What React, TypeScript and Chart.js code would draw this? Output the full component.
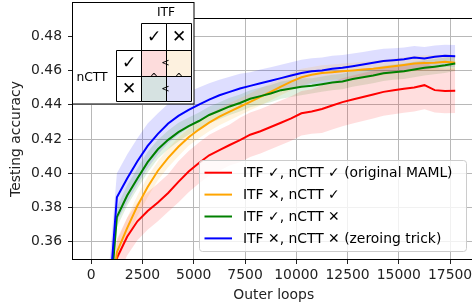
import React, { useEffect, useRef } from 'react';
import { Chart, registerables } from 'chart.js';

Chart.register(...registerables);

// ---------------- data ----------------
const outerLoops = [0, 1250, 1750, 2250, 2750, 3250, 3750, 4250, 4750, 5250, 5750, 6250, 6750, 7250, 7750, 8250, 8750, 9250, 9750, 10250, 10750, 11250, 11750, 12250, 12750, 13250, 13750, 14250, 14750, 15250, 15750, 16250, 16750, 17250, 17750];

const accOriginal = [0.20, 0.3505, 0.363, 0.372, 0.378, 0.383, 0.3885, 0.395, 0.401, 0.406, 0.4105, 0.4135, 0.4165, 0.4194, 0.4225, 0.4245, 0.427, 0.4295, 0.432, 0.435, 0.436, 0.4375, 0.4395, 0.4415, 0.443, 0.4445, 0.446, 0.4475, 0.4485, 0.4493, 0.450, 0.4514, 0.4485, 0.448, 0.4481];
const accItfOff = [0.21, 0.354, 0.368, 0.381, 0.392, 0.4015, 0.409, 0.4155, 0.421, 0.4255, 0.4295, 0.433, 0.436, 0.4388, 0.4417, 0.4446, 0.4475, 0.4505, 0.4535, 0.456, 0.4575, 0.4585, 0.459, 0.4595, 0.460, 0.4605, 0.461, 0.4617, 0.4625, 0.4632, 0.464, 0.4643, 0.4645, 0.465, 0.4645];
const accNcttOff = [0.19, 0.3745, 0.387, 0.397, 0.4065, 0.414, 0.4195, 0.424, 0.4275, 0.4305, 0.434, 0.4365, 0.439, 0.441, 0.4435, 0.445, 0.4465, 0.4485, 0.4495, 0.4505, 0.451, 0.452, 0.453, 0.4535, 0.455, 0.456, 0.457, 0.4583, 0.459, 0.4595, 0.4605, 0.4615, 0.4622, 0.463, 0.4641];
const accZeroing = [0.19, 0.386, 0.397, 0.407, 0.416, 0.423, 0.429, 0.4335, 0.437, 0.440, 0.443, 0.4455, 0.4475, 0.4495, 0.451, 0.4525, 0.454, 0.4555, 0.457, 0.4585, 0.4595, 0.460, 0.461, 0.4615, 0.4625, 0.4635, 0.4645, 0.4655, 0.466, 0.4665, 0.4675, 0.467, 0.468, 0.4685, 0.4683];

const spreadOriginal = [0.03, 0.011, 0.011, 0.011, 0.011, 0.011, 0.011, 0.012, 0.012, 0.012, 0.012, 0.012, 0.012, 0.013, 0.013, 0.013, 0.013, 0.013, 0.013, 0.013, 0.013, 0.014, 0.014, 0.014, 0.014, 0.014, 0.014, 0.014, 0.014, 0.014, 0.014, 0.014, 0.013, 0.013, 0.013];
const spreadItfOff = [0.02, 0.006, 0.006, 0.006, 0.006, 0.0055, 0.0055, 0.0055, 0.005, 0.005, 0.005, 0.005, 0.005, 0.005, 0.005, 0.005, 0.005, 0.005, 0.005, 0.005, 0.0045, 0.0045, 0.0045, 0.0045, 0.0045, 0.0045, 0.0045, 0.0045, 0.0045, 0.0045, 0.0045, 0.0045, 0.0045, 0.0045, 0.0045];
const spreadNcttOff = [0.02, 0.006, 0.006, 0.006, 0.006, 0.0055, 0.0055, 0.0055, 0.005, 0.005, 0.005, 0.005, 0.005, 0.005, 0.005, 0.005, 0.005, 0.005, 0.005, 0.005, 0.0045, 0.0045, 0.0045, 0.0045, 0.0045, 0.0045, 0.0045, 0.0045, 0.0045, 0.0045, 0.0045, 0.0045, 0.0045, 0.0045, 0.0045];
const spreadZeroing = [0.03, 0.014, 0.014, 0.0135, 0.013, 0.012, 0.0115, 0.011, 0.0105, 0.010, 0.0095, 0.009, 0.0088, 0.0085, 0.008, 0.008, 0.0078, 0.0078, 0.0077, 0.0077, 0.0076, 0.0076, 0.0075, 0.0075, 0.0074, 0.0073, 0.0072, 0.0071, 0.007, 0.0069, 0.0068, 0.0067, 0.0066, 0.0065, 0.0065];

const seriesLabels = [
  'ITF ✓, nCTT ✓ (original MAML)',
  'ITF ✕, nCTT ✓',
  'ITF ✓, nCTT ✕',
  'ITF ✕, nCTT ✕ (zeroing trick)',
];
const seriesColors = ['#ff0000', '#ffa500', '#008000', '#0000ff'];
const bandColors = ['rgba(255,0,0,0.13)', 'rgba(255,165,0,0.13)', 'rgba(0,128,0,0.12)', 'rgba(0,0,255,0.13)'];

const xTicks = [0, 2500, 5000, 7500, 10000, 12500, 15000, 17500];
const yTicks = [0.36, 0.38, 0.40, 0.42, 0.44, 0.46, 0.48];
const xLimits = [-890, 18690];
const yLimits = [0.35, 0.49];

const xTitle = 'Outer loops';
const yTitle = 'Testing accuracy';
const insetColTitle = 'ITF';
const insetRowTitle = 'nCTT';

const FONT = "'DejaVu Sans', 'Liberation Sans', sans-serif";
const FS = 13.9;

const seriesValues = [accOriginal, accItfOff, accNcttOff, accZeroing];
const seriesSpreads = [spreadOriginal, spreadItfOff, spreadNcttOff, spreadZeroing];

// ---------------- plugins ----------------
const framePlugin = {
  id: 'frame',
  afterDatasetsDraw(chart: any) {
    const { ctx, chartArea: a } = chart;
    ctx.save();
    ctx.strokeStyle = '#000';
    ctx.lineWidth = 1;
    ctx.strokeRect(Math.round(a.left) - 0.5, Math.round(a.top) - 0.5, Math.round(a.right - a.left) + 1, Math.round(a.bottom - a.top) + 1);
    ctx.restore();
  },
};

const overlayPlugin = {
  id: 'overlay',
  afterDraw(chart: any) {
    const ctx = chart.ctx;
    ctx.save();
    // ----- inset table -----
    ctx.fillStyle = '#ffffff';
    ctx.fillRect(72.5, 2.5, 121.5, 101.5);
    ctx.strokeStyle = '#000';
    ctx.lineWidth = 1;
    ctx.strokeRect(72.5, 2.5, 121.5, 101.5);

    const cx = [116.5, 141.5, 166.5, 191.5];
    const cy = [23.5, 50.5, 76.5, 101.5];
    const cellFill = [
      ['#fddcdc', '#fdf1df'],
      ['#d6e2e1', '#dfdffa'],
    ];
    for (let r = 0; r < 2; r++) {
      for (let c = 0; c < 2; c++) {
        ctx.fillStyle = cellFill[r][c];
        ctx.fillRect(cx[c + 1], cy[r + 1], cx[c + 2] - cx[c + 1], cy[r + 2] - cy[r + 1]);
      }
    }
    ctx.beginPath();
    ctx.rect(cx[1], cy[0], cx[2] - cx[1], cy[1] - cy[0]);
    ctx.rect(cx[2], cy[0], cx[3] - cx[2], cy[1] - cy[0]);
    ctx.rect(cx[0], cy[1], cx[1] - cx[0], cy[2] - cy[1]);
    ctx.rect(cx[0], cy[2], cx[1] - cx[0], cy[3] - cy[2]);
    for (let r = 0; r < 2; r++) for (let c = 0; c < 2; c++) ctx.rect(cx[c + 1], cy[r + 1], cx[c + 2] - cx[c + 1], cy[r + 2] - cy[r + 1]);
    ctx.stroke();

    ctx.fillStyle = '#000';
    ctx.textAlign = 'center';
    ctx.textBaseline = 'middle';
    ctx.font = `12.3px ${FONT}`;
    ctx.fillText(insetColTitle, 166, 12.5);
    ctx.fillText(insetRowTitle, 92, 77.5);
    ctx.font = `17px ${FONT}`;
    ctx.fillText('✓', 154, 37.5);
    ctx.fillText('✕', 179, 37.5);
    ctx.fillText('✓', 129, 64);
    ctx.fillText('✕', 129, 89.5);
    ctx.font = `10px ${FONT}`;
    ctx.fillText('<', 165.5, 63.5);
    ctx.fillText('<', 165.5, 89.5);
    ctx.textBaseline = 'alphabetic';
    ctx.fillText('^', 154, 81);
    ctx.fillText('^', 179, 81);

    // ----- legend -----
    const lx = 199.5, ly = 160.5, lw = 267, lh = 91, rad = 3;
    ctx.beginPath();
    ctx.moveTo(lx + rad, ly);
    ctx.lineTo(lx + lw - rad, ly);
    ctx.arcTo(lx + lw, ly, lx + lw, ly + rad, rad);
    ctx.lineTo(lx + lw, ly + lh - rad);
    ctx.arcTo(lx + lw, ly + lh, lx + lw - rad, ly + lh, rad);
    ctx.lineTo(lx + rad, ly + lh);
    ctx.arcTo(lx, ly + lh, lx, ly + lh - rad, rad);
    ctx.lineTo(lx, ly + rad);
    ctx.arcTo(lx, ly, lx + rad, ly, rad);
    ctx.closePath();
    ctx.fillStyle = 'rgba(255,255,255,0.8)';
    ctx.fill();
    ctx.strokeStyle = '#cccccc';
    ctx.stroke();

    const rowY = [172.7, 194.6, 216.5, 238.4];
    ctx.font = `${FS}px ${FONT}`;
    ctx.textAlign = 'left';
    ctx.textBaseline = 'middle';
    seriesLabels.forEach((lab, i) => {
      ctx.strokeStyle = seriesColors[i];
      ctx.lineWidth = 2;
      ctx.beginPath();
      ctx.moveTo(204.5, rowY[i]);
      ctx.lineTo(232, rowY[i]);
      ctx.stroke();
      ctx.fillStyle = '#000';
      ctx.fillText(lab, 243, rowY[i] + 0.5);
    });
    ctx.restore();
  },
};

export default function App() {
  const canvasRef = useRef<HTMLCanvasElement | null>(null);

  useEffect(() => {
    const canvas = canvasRef.current;
    if (!canvas) return;

    const datasets: any[] = [];
    seriesValues.forEach((vals, i) => {
      const sp = seriesSpreads[i];
      datasets.push({
        label: seriesLabels[i] + ' lower',
        data: outerLoops.map((x, k) => ({ x, y: vals[k] - sp[k] })),
        borderWidth: 0,
        borderColor: 'rgba(0,0,0,0)',
        pointRadius: 0,
        fill: false,
        order: 10,
      });
      datasets.push({
        label: seriesLabels[i] + ' upper',
        data: outerLoops.map((x, k) => ({ x, y: vals[k] + sp[k] })),
        borderWidth: 0,
        borderColor: 'rgba(0,0,0,0)',
        backgroundColor: bandColors[i],
        pointRadius: 0,
        fill: '-1',
        order: 10,
      });
    });
    seriesValues.forEach((vals, i) => {
      datasets.push({
        label: seriesLabels[i],
        data: outerLoops.map((x, k) => ({ x, y: vals[k] })),
        borderColor: seriesColors[i],
        backgroundColor: seriesColors[i],
        borderWidth: 2,
        pointRadius: 0,
        tension: 0,
        fill: false,
        order: 4 - i,
      });
    });

    const chart = new Chart(canvas, {
      type: 'line',
      data: { datasets },
      options: {
        animation: false,
        responsive: false,
        devicePixelRatio: 1,
        layout: { padding: { top: 19, right: 1.5, left: 0, bottom: 0 } },
        plugins: {
          legend: { display: false },
          tooltip: { enabled: false },
        },
        scales: {
          x: {
            type: 'linear',
            min: xLimits[0],
            max: xLimits[1],
            afterBuildTicks: (scale: any) => {
              scale.ticks = xTicks.map((v) => ({ value: v }));
            },
            afterFit: (scale: any) => {
              scale.height = 48;
            },
            ticks: {
              autoSkip: false,
              maxRotation: 0,
              padding: 3,
              color: '#222',
              font: { family: FONT, size: FS },
              callback: (v: any) => String(v),
            },
            grid: { color: '#b8b8b8', lineWidth: 1, drawTicks: true, tickLength: 5, tickColor: '#222' },
            border: { display: false },
            title: { display: true, text: xTitle, color: '#222', font: { family: FONT, size: FS }, padding: { top: 0, bottom: 3 } },
          },
          y: {
            type: 'linear',
            min: yLimits[0],
            max: yLimits[1],
            afterBuildTicks: (scale: any) => {
              scale.ticks = yTicks.map((v) => ({ value: v }));
            },
            afterFit: (scale: any) => {
              scale.width = 73;
            },
            ticks: {
              padding: 6,
              color: '#222',
              font: { family: FONT, size: FS },
              callback: (v: any) => Number(v).toFixed(2),
            },
            grid: { color: '#b8b8b8', lineWidth: 1, drawTicks: true, tickLength: 5, tickColor: '#222' },
            border: { display: false },
            title: { display: true, text: yTitle, color: '#222', font: { family: FONT, size: FS }, padding: { top: 8, bottom: 0 } },
          },
        },
      },
      plugins: [framePlugin, overlayPlugin],
    } as any);

    return () => chart.destroy();
  }, []);

  return (
    <div style={{ position: 'fixed', left: 0, top: 0, width: 472, height: 307, overflow: 'hidden', background: '#fff' }}>
      <canvas ref={canvasRef} width={476} height={307} style={{ display: 'block', width: 476, height: 307 }} />
    </div>
  );
}
